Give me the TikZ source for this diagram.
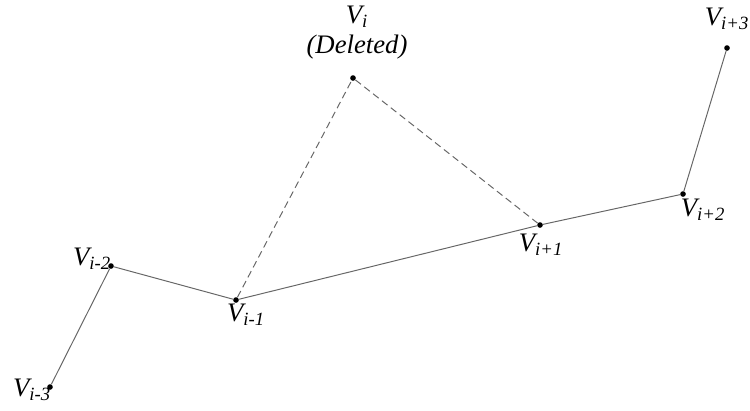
\documentclass[tikz,border=0pt]{standalone}
\usepackage{fontspec}
\setmainfont{Liberation Serif}
\usepackage{tikz}
\usetikzlibrary{positioning}

\begin{document}
\begin{tikzpicture}[x=0.025cm,y=-0.025cm,
  pt/.style={circle,fill=black,inner sep=0pt,minimum size=4pt},
  lbl/.style={inner sep=0pt,font=\fontsize{19}{21}\selectfont\itshape},
  edge/.style={black!60,line width=0.7pt},
  gone/.style={edge,dashed,dash pattern=on 5pt off 3pt}]
  \useasboundingbox (0,0) rectangle (750,410);

  % polyline vertices (pixel positions)
  \node[pt] (vm3) at (50,387) {};
  \node[pt] (vm2) at (111,266) {};
  \node[pt] (vm1) at (236,300) {};
  \node[pt] (vi)  at (353,78) {};
  \node[pt] (vp1) at (540,225) {};
  \node[pt] (vp2) at (683,194) {};
  \node[pt] (vp3) at (727,48) {};

  % labels
  \node[lbl] (tm3) at (32,390) {V\textsubscript{i-3}};
  \node[lbl] (tm2) at (92,259) {V\textsubscript{i-2}};
  \node[lbl] (tm1) at (246,315) {V\textsubscript{i-1}};
  \node[lbl] (ti)  at (357,17) {V\textsubscript{i}};
  \node[lbl] (del) at (357,47) {(Deleted)};
  \node[lbl] (tp1) at (541,245) {V\textsubscript{i+1}};
  \node[lbl] (tp2) at (703,210) {V\textsubscript{i+2}};
  \node[lbl] (tp3) at (727,19) {V\textsubscript{i+3}};

  % remaining line
  \draw[edge] (vm3) -- (vm2) -- (vm1) -- (vp1) -- (vp2) -- (vp3);
  % deleted vertex
  \draw[gone] (vm1) -- (vi) -- (vp1);
\end{tikzpicture}
\end{document}
